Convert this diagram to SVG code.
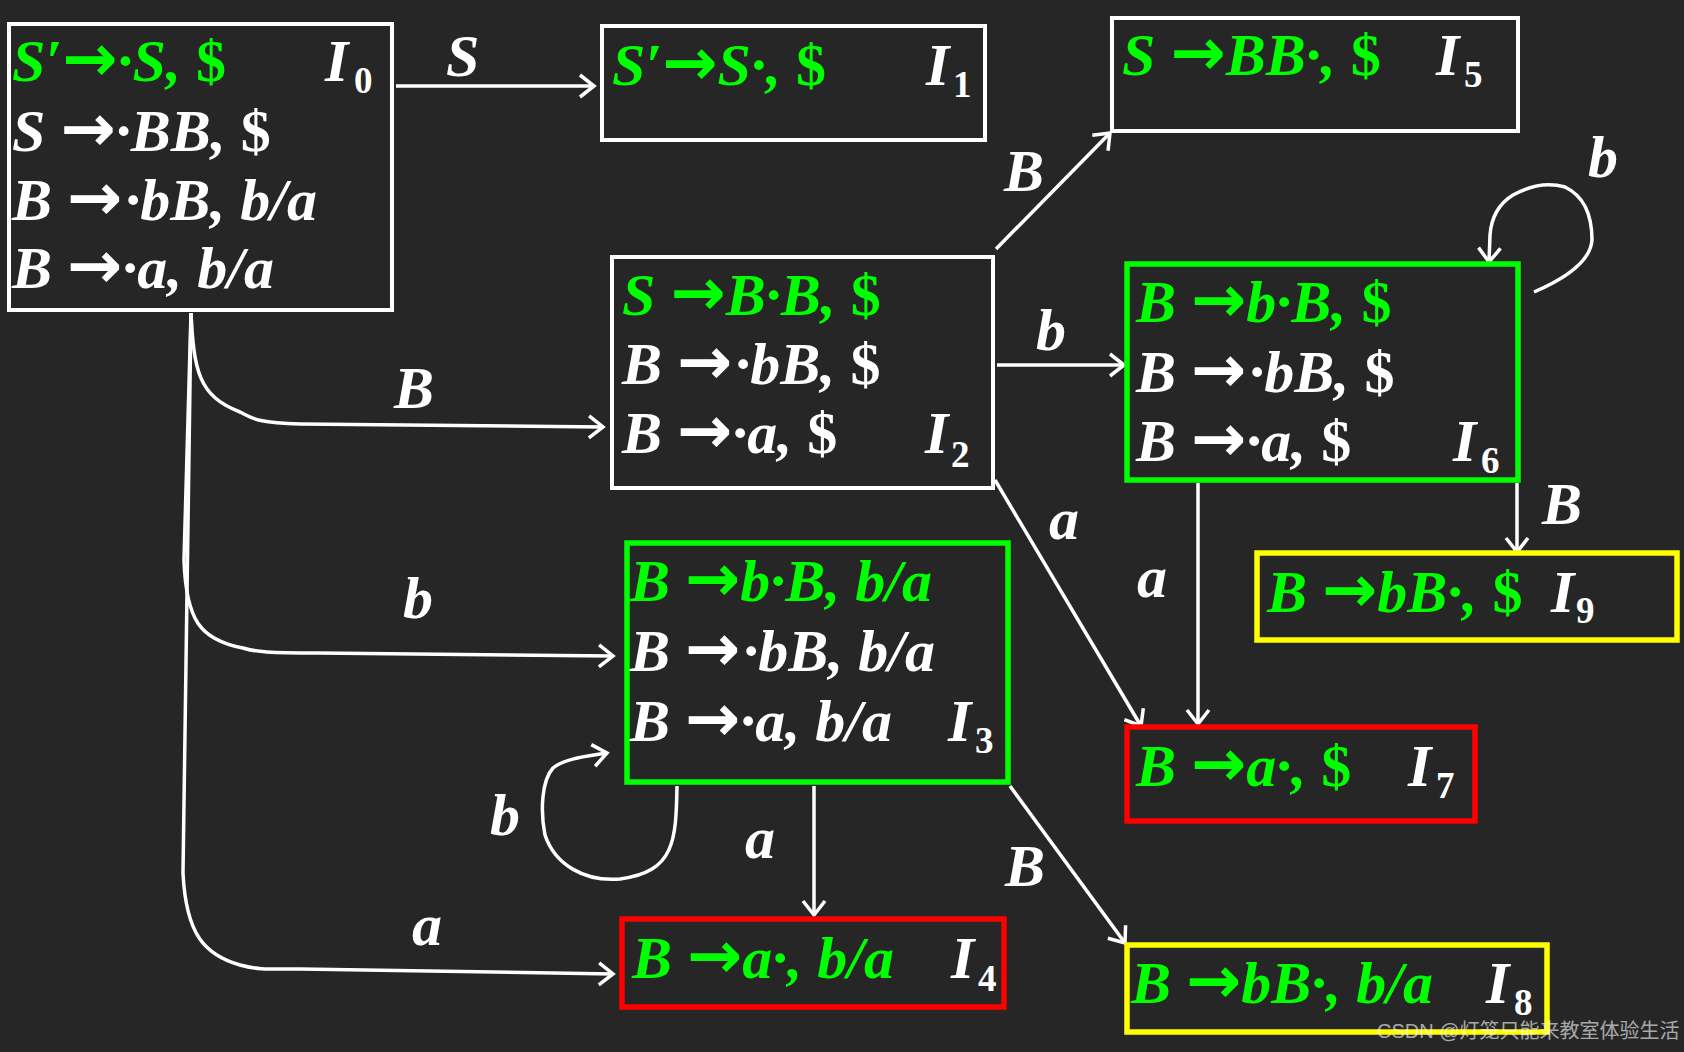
<svg xmlns="http://www.w3.org/2000/svg" width="1684" height="1052" viewBox="0 0 1684 1052">
<style>
.t{font-family:"Liberation Serif","Times New Roman",serif;font-weight:bold;font-style:italic;font-size:60px;fill:#ffffff}
.g{fill:#00ff00}
.ar{font-family:"DejaVu Sans",sans-serif;font-style:normal;font-weight:bold;font-size:66px}
.up{font-style:normal}
.sub{font-style:normal;font-size:37px}
.wb{fill:none;stroke:#ffffff;stroke-width:4}
.gb{fill:none;stroke:#00ff00;stroke-width:5.5}
.rb{fill:none;stroke:#ff0000;stroke-width:5.5}
.yb{fill:none;stroke:#ffff00;stroke-width:5.5}
.e{fill:none;stroke:#ffffff;stroke-width:3.5;marker-end:url(#ah)}
.wm{font-family:"Liberation Sans","Noto Sans CJK SC",sans-serif;font-size:20px;fill:#ffffff;opacity:0.6}
</style>
<defs>
<marker id="ah" markerUnits="userSpaceOnUse" markerWidth="20" markerHeight="28" refX="16" refY="13" orient="auto">
<path d="M2,2 L16,13 L2,24" fill="none" stroke="#ffffff" stroke-width="3.5" stroke-linejoin="miter"/>
</marker>
</defs>
<rect width="1684" height="1052" fill="#262626"/>

<g id="connectors">
<path class="e" d="M396,86 L594,86"/>
<path class="e" d="M191,313 C194,370 198,396 240,412 C252,418 256,423 300,424 L603,427"/>
<path class="e" d="M191,313 L184,560 C186,620 200,640 243,648 C255,652 270,653 317,653 L613,656"/>
<path class="e" d="M191,313 L183,873 C186,935 205,955 240,965 C258,970 270,969 300,969 L613,974"/>
<path class="e" d="M996,249 L1110,133"/>
<path class="e" d="M997,365 L1124,365"/>
<path class="e" d="M995,480 L1141,726"/>
<path class="e" d="M1534,292 Q1590,268 1592,240 Q1592,200 1565,187 Q1540,180 1513,195 Q1492,208 1490,235 L1489,262"/>
<path class="e" d="M1517,483 L1517,552"/>
<path class="e" d="M1198,483 L1198,724"/>
<path class="e" d="M677,786 C676,840 675,872 620,879 C585,882 555,865 545,835 C540,810 542,780 553,768 C565,758 590,756 607,753"/>
<path class="e" d="M814,786 L814,915"/>
<path class="e" d="M1010,786 L1125,943"/>
<text class="t" x="446" y="76">S</text>
<text class="t" x="394" y="408">B</text>
<text class="t" x="403" y="618">b</text>
<text class="t" x="412" y="945">a</text>
<text class="t" x="1004" y="191">B</text>
<text class="t" x="1036" y="350">b</text>
<text class="t" x="1588" y="177">b</text>
<text class="t" x="1049" y="539">a</text>
<text class="t" x="1137" y="597">a</text>
<text class="t" x="1542" y="524">B</text>
<text class="t" x="490" y="835">b</text>
<text class="t" x="745" y="858">a</text>
<text class="t" x="1005" y="886">B</text>
</g>

<g id="I0">
<rect class="wb" x="9" y="24" width="383" height="286"/>
<text class="t g" x="12" y="81">S′<tspan class="ar">→</tspan>·S, <tspan class="up">$</tspan></text>
<text class="t" x="12" y="151">S <tspan class="ar">→</tspan>·BB, <tspan class="up">$</tspan></text>
<text class="t" x="12" y="220">B <tspan class="ar">→</tspan><tspan dx="3">·bB, b/a</tspan></text>
<text class="t" x="12" y="288">B <tspan class="ar">→</tspan>·a, b/a</text>
<text class="t" x="325" y="81">I<tspan class="sub" x="354" y="93">0</tspan></text>
</g>

<g id="I1">
<rect class="wb" x="602" y="26" width="383" height="114"/>
<text class="t g" x="612" y="85">S′<tspan class="ar">→</tspan>S·, <tspan class="up">$</tspan></text>
<text class="t" x="926" y="85">I<tspan class="sub" x="953" y="97">1</tspan></text>
</g>

<g id="I5">
<rect class="wb" x="1112" y="18" width="406" height="113"/>
<text class="t g" x="1122" y="75">S <tspan class="ar">→</tspan>BB·, <tspan class="up">$</tspan></text>
<text class="t" x="1436" y="75">I<tspan class="sub" x="1464" y="87">5</tspan></text>
</g>

<g id="I2">
<rect class="wb" x="612" y="257" width="381" height="231"/>
<text class="t g" x="622" y="315">S <tspan class="ar">→</tspan>B·B, <tspan class="up">$</tspan></text>
<text class="t" x="622" y="384">B <tspan class="ar">→</tspan><tspan dx="3">·bB, </tspan><tspan class="up">$</tspan></text>
<text class="t" x="622" y="453">B <tspan class="ar">→</tspan>·a, <tspan class="up">$</tspan></text>
<text class="t" x="925" y="453">I<tspan class="sub" x="951" y="467">2</tspan></text>
</g>

<g id="I6">
<rect class="gb" x="1127" y="264" width="391" height="216"/>
<text class="t g" x="1136" y="322">B <tspan class="ar">→</tspan>b·B, <tspan class="up">$</tspan></text>
<text class="t" x="1136" y="392">B <tspan class="ar">→</tspan><tspan dx="3">·bB, </tspan><tspan class="up">$</tspan></text>
<text class="t" x="1136" y="461">B <tspan class="ar">→</tspan>·a, <tspan class="up">$</tspan></text>
<text class="t" x="1453" y="461">I<tspan class="sub" x="1481" y="473">6</tspan></text>
</g>

<g id="I9">
<rect class="yb" x="1257" y="553" width="420" height="87"/>
<text class="t g" x="1267" y="612">B <tspan class="ar">→</tspan>bB·, <tspan class="up">$</tspan></text>
<text class="t" x="1551" y="612">I<tspan class="sub" x="1576" y="623">9</tspan></text>
</g>

<g id="I3">
<rect class="gb" x="627" y="543" width="381" height="239"/>
<text class="t g" x="630" y="601">B <tspan class="ar">→</tspan>b·B, b/a</text>
<text class="t" x="630" y="671">B <tspan class="ar">→</tspan><tspan dx="3">·bB, b/a</tspan></text>
<text class="t" x="630" y="741">B <tspan class="ar">→</tspan>·a, b/a</text>
<text class="t" x="948" y="741">I<tspan class="sub" x="975" y="753">3</tspan></text>
</g>

<g id="I4">
<rect class="rb" x="622" y="919" width="382" height="88"/>
<text class="t g" x="632" y="978">B <tspan class="ar">→</tspan>a·, b/a</text>
<text class="t" x="951" y="978">I<tspan class="sub" x="978" y="991">4</tspan></text>
</g>

<g id="I7">
<rect class="rb" x="1127" y="727" width="348" height="94"/>
<text class="t g" x="1136" y="786">B <tspan class="ar">→</tspan>a·, <tspan class="up">$</tspan></text>
<text class="t" x="1408" y="786">I<tspan class="sub" x="1436" y="798">7</tspan></text>
</g>

<g id="I8">
<rect class="yb" x="1127" y="945" width="420" height="87"/>
<text class="t g" x="1131" y="1003">B <tspan class="ar">→</tspan>bB·, b/a</text>
<text class="t" x="1486" y="1003">I<tspan class="sub" x="1514" y="1015">8</tspan></text>
</g>

<text class="wm" x="1377" y="1038">CSDN @灯笼只能来教室体验生活</text>
</svg>
